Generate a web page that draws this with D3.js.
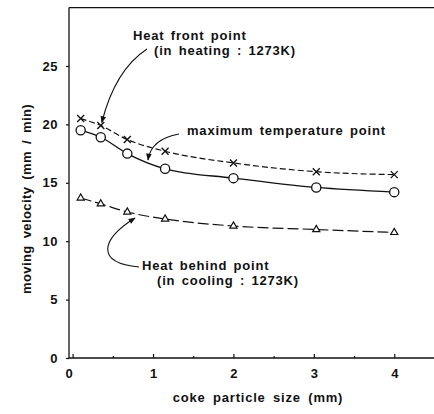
<!DOCTYPE html>
<html>
<head>
  <script src="https://d3js.org/d3.v7.min.js"></script>
  <style>
    body { margin: 0; background: #fff; }
    svg text { font-family: "Liberation Sans", Arial, sans-serif; font-weight: bold; fill: #111; }
  </style>
</head>
<body>
  <script>
    // Values
    var particleSize = [0.1, 0.35, 0.68, 1.15, 2.0, 3.03, 4.0];
    var heatFront = [20.5, 19.9, 18.7, 17.7, 16.7, 15.95, 15.7];
    var maxTemp = [19.5, 18.9, 17.5, 16.2, 15.4, 14.6, 14.2];
    var heatBehind = [13.7, 13.2, 12.5, 11.9, 11.3, 11.0, 10.75];
    var yTicks = [0, 5, 10, 15, 20, 25];
    var xTicks = [0, 1, 2, 3, 4];
    var xMinorTicks = [0.5, 1.5, 2.5, 3.5];

    var width = 434, height = 414;

    var svg = d3.select("body")
      .append("svg")
      .attr("width", width)
      .attr("height", height);

    // Scales
    var x = d3.scaleLinear()
      .domain([-0.045, 4.6])
      .range([69, 442.5]);

    var y = d3.scaleLinear()
      .domain([0, 30])
      .range([358, 7.6]);

    // Frame (left, top, bottom)
    var frame = svg.append("g")
      .attr("stroke", "#111")
      .attr("stroke-width", 1.3)
      .attr("fill", "none");
    frame.append("line").attr("x1", x(-0.045)).attr("x2", x(-0.045)).attr("y1", y(30)).attr("y2", y(0));
    frame.append("line").attr("x1", x(-0.045)).attr("x2", width).attr("y1", y(30)).attr("y2", y(30));
    frame.append("line").attr("x1", x(-0.045)).attr("x2", width).attr("y1", y(0)).attr("y2", y(0));

    // Y axis
    var yAxis = svg.append("g")
      .attr("transform", "translate(" + x(-0.045) + ",0)")
      .call(d3.axisLeft(y).tickValues(yTicks).tickSize(3).tickPadding(8).tickFormat(d3.format("d")));
    yAxis.select(".domain").remove();
    yAxis.selectAll("text").style("font-size", "13px").style("letter-spacing", "0.5px");

    // X axis (ticks point inward)
    var xAxis = svg.append("g")
      .attr("transform", "translate(0," + y(0) + ")")
      .call(d3.axisBottom(x).tickValues(xTicks).tickSize(-4).tickPadding(11).tickFormat(d3.format("d")));
    xAxis.select(".domain").remove();
    xAxis.selectAll("text").style("font-size", "13px");
    xAxis.selectAll(".tick").filter(function(d) { return d === 0; })
      .select("text").attr("x", -4);

    var xMinor = svg.append("g")
      .attr("transform", "translate(0," + y(0) + ")")
      .call(d3.axisBottom(x).tickValues(xMinorTicks).tickSize(-2).tickFormat(""));
    xMinor.select(".domain").remove();

    svg.selectAll(".tick line").attr("stroke", "#111").attr("stroke-width", 1.2);

    // Axis titles
    svg.append("text")
      .attr("x", 258)
      .attr("y", 402)
      .attr("text-anchor", "middle")
      .style("font-size", "13px")
      .style("letter-spacing", "0.8px")
      .style("word-spacing", "3px")
      .text("coke particle size (mm)");

    svg.append("text")
      .attr("transform", "translate(31,199) rotate(-90)")
      .attr("text-anchor", "middle")
      .style("font-size", "13px")
      .style("letter-spacing", "0.4px")
      .style("word-spacing", "3px")
      .text("moving velocity (mm / min)");

    // Series
    function points(values) {
      return values.map(function(v, i) { return [particleSize[i], v]; });
    }

    var line = d3.line()
      .x(function(d) { return x(d[0]); })
      .y(function(d) { return y(d[1]); })
      .curve(d3.curveMonotoneX);

    svg.append("path")
      .attr("d", line(points(heatFront)))
      .attr("fill", "none")
      .attr("stroke", "#111")
      .attr("stroke-width", 1.2)
      .attr("stroke-dasharray", "6,3");

    svg.append("path")
      .attr("d", line(points(maxTemp)))
      .attr("fill", "none")
      .attr("stroke", "#111")
      .attr("stroke-width", 1.3);

    svg.append("path")
      .attr("d", line(points(heatBehind)))
      .attr("fill", "none")
      .attr("stroke", "#111")
      .attr("stroke-width", 1.2)
      .attr("stroke-dasharray", "11,4");

    // Markers
    svg.append("g").selectAll("path")
      .data(points(heatFront))
      .join("path")
      .attr("transform", function(d) { return "translate(" + x(d[0]) + "," + y(d[1]) + ")"; })
      .attr("d", "M-3.5,-3.5L3.5,3.5M-3.5,3.5L3.5,-3.5")
      .attr("stroke", "#111")
      .attr("stroke-width", 1.3);

    svg.append("g").selectAll("circle")
      .data(points(maxTemp))
      .join("circle")
      .attr("cx", function(d) { return x(d[0]); })
      .attr("cy", function(d) { return y(d[1]); })
      .attr("r", 4.6)
      .attr("fill", "#fff")
      .attr("stroke", "#111")
      .attr("stroke-width", 1.3);

    svg.append("g").selectAll("path")
      .data(points(heatBehind))
      .join("path")
      .attr("transform", function(d) { return "translate(" + x(d[0]) + "," + y(d[1]) + ")"; })
      .attr("d", d3.symbol(d3.symbolTriangle, 22))
      .attr("fill", "#fff")
      .attr("stroke", "#111")
      .attr("stroke-width", 1.2);

    // Arrowhead
    svg.append("defs").append("marker")
      .attr("id", "arrow")
      .attr("viewBox", "0 0 10 10")
      .attr("refX", 9)
      .attr("refY", 5)
      .attr("markerWidth", 8)
      .attr("markerHeight", 7)
      .attr("markerUnits", "userSpaceOnUse")
      .attr("orient", "auto")
      .append("path")
      .attr("d", "M0,1L10,5L0,9Z")
      .attr("fill", "#111");

    function arrow(d) {
      svg.append("path")
        .attr("d", d)
        .attr("fill", "none")
        .attr("stroke", "#111")
        .attr("stroke-width", 1.1)
        .attr("marker-end", "url(#arrow)");
    }

    // Annotations (one text element per label, lines as tspans)
    function label(tx, ty, lines, indent) {
      var t = svg.append("text")
        .attr("x", tx)
        .attr("y", ty)
        .style("font-size", "13px")
        .style("letter-spacing", "0.8px")
        .style("word-spacing", "2px");
      lines.forEach(function(s, i) {
        t.append("tspan")
          .attr("x", tx + i * indent)
          .attr("dy", i === 0 ? 0 : 15)
          .text(s);
      });
    }

    label(133, 40, ["Heat front point", "(in heating : 1273K)"], 21);
    arrow("M147,49Q115,70 " + (x(particleSize[1]) + 1) + "," + (y(heatFront[1]) - 3));

    label(187, 135, ["maximum temperature point"], 0);
    arrow("M179,134Q151,139 148,160");

    label(142, 270, ["Heat behind point", "(in cooling : 1273K)"], 15);
    arrow("M139,267C96,263 100,240 135,218");
  </script>
</body>
</html>
